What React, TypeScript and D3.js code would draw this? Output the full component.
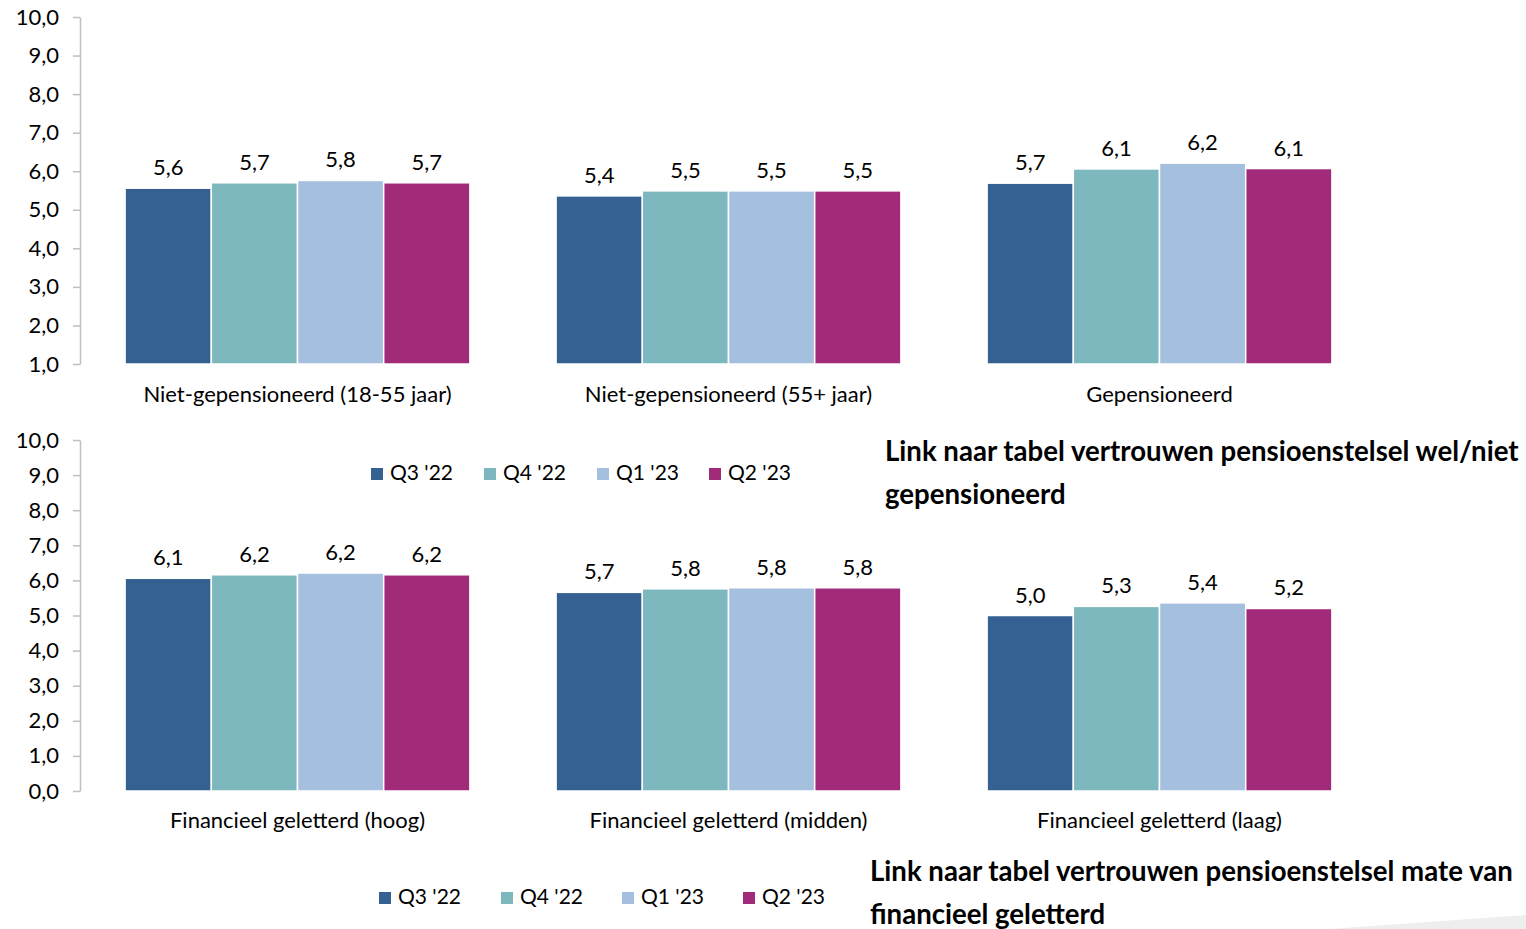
import * as d3 from "d3";
import React from "react";

const series = ["Q3 '22", "Q4 '22", "Q1 '23", "Q2 '23"];
const colors = ["#356092", "#7db8bf", "#a5bfde", "#a12b78"];

const topCategories = [
  "Niet-gepensioneerd (18-55 jaar)",
  "Niet-gepensioneerd (55+ jaar)",
  "Gepensioneerd",
];
const topValues = [
  [5.56, 5.7, 5.76, 5.7],
  [5.36, 5.49, 5.49, 5.49],
  [5.69, 6.06, 6.21, 6.07],
];
const topTicks = [1, 2, 3, 4, 5, 6, 7, 8, 9, 10];

const bottomCategories = [
  "Financieel geletterd (hoog)",
  "Financieel geletterd (midden)",
  "Financieel geletterd (laag)",
];
const bottomValues = [
  [6.06, 6.16, 6.21, 6.16],
  [5.66, 5.76, 5.79, 5.79],
  [5.0, 5.26, 5.36, 5.2],
];
const bottomTicks = [0, 1, 2, 3, 4, 5, 6, 7, 8, 9, 10];

const topLink = ["Link naar tabel vertrouwen pensioenstelsel wel/niet", "gepensioneerd"];
const bottomLink = ["Link naar tabel vertrouwen pensioenstelsel mate van", "financieel geletterd"];

const FONT = "Lato, 'Noto Sans', sans-serif";

const nl = d3.formatLocale({
  decimal: ",",
  thousands: ".",
  grouping: [3],
  currency: ["€", ""],
});
const fmt = nl.format(".1f");

const width = 1526;
const height = 929;

export default function App() {
  const ref = React.useRef<SVGSVGElement | null>(null);

  const drawPanel = (
    svg: d3.Selection<SVGSVGElement, unknown, null, undefined>,
    cats: string[],
    values: number[][],
    ticks: number[],
    yDomain: [number, number],
    yRange: [number, number],
    catLabelY: number,
    legendX: number[],
    legendY: number,
    link: string[],
    linkX: number,
    linkY: number
  ) => {
    const x = d3
      .scaleBand<string>()
      .domain(cats)
      .range([82, 1375])
      .paddingInner(0.2)
      .paddingOuter(0.1);
    const xs = d3.scaleBand<string>().domain(series).range([0, x.bandwidth()]);
    const y = d3.scaleLinear().domain(yDomain).range(yRange);

    const axis = svg
      .append("g")
      .attr("transform", "translate(80,0)")
      .call(
        d3
          .axisLeft(y)
          .tickValues(ticks)
          .tickSize(7)
          .tickSizeOuter(0)
          .tickPadding(14)
          .tickFormat((d) => fmt(d as number))
      );
    axis.select(".domain").attr("stroke", "#bfbfbf").attr("stroke-width", 1.5);
    axis.selectAll(".tick line").attr("stroke", "#bfbfbf").attr("stroke-width", 1.5);
    axis
      .selectAll(".tick text")
      .attr("font-family", FONT)
      .attr("font-size", 22)
      .attr("fill", "#000");

    const groups = svg
      .append("g")
      .selectAll("g")
      .data(cats)
      .join("g")
      .attr("transform", (d) => `translate(${x(d)},0)`);

    groups
      .selectAll("rect")
      .data((_, i) => values[i].map((v, j) => ({ v, s: series[j], c: colors[j] })))
      .join("rect")
      .attr("x", (d) => xs(d.s)!)
      .attr("y", (d) => y(d.v))
      .attr("width", xs.bandwidth())
      .attr("height", (d) => y(yDomain[0]) - y(d.v))
      .attr("fill", (d) => d.c)
      .attr("stroke", "#fff")
      .attr("stroke-width", 1.5);

    groups
      .selectAll("text.val")
      .data((_, i) => values[i].map((v, j) => ({ v, s: series[j] })))
      .join("text")
      .attr("class", "val")
      .attr("x", (d) => xs(d.s)! + xs.bandwidth() / 2)
      .attr("y", (d) => y(d.v) - 13)
      .attr("text-anchor", "middle")
      .attr("font-family", FONT)
      .attr("font-size", 22)
      .attr("fill", "#000")
      .text((d) => fmt(d.v));

    svg
      .append("g")
      .selectAll("text")
      .data(cats)
      .join("text")
      .attr("x", (d) => x(d)! + x.bandwidth() / 2)
      .attr("y", catLabelY)
      .attr("text-anchor", "middle")
      .attr("dominant-baseline", "middle")
      .attr("font-family", FONT)
      .attr("font-size", 22)
      .attr("fill", "#000")
      .text((d) => d);

    const leg = svg
      .append("g")
      .selectAll("g")
      .data(series)
      .join("g")
      .attr("transform", (_, i) => `translate(${legendX[i]},${legendY})`);
    leg
      .append("rect")
      .attr("x", 0)
      .attr("y", -6)
      .attr("width", 12)
      .attr("height", 12)
      .attr("fill", (_, i) => colors[i]);
    leg
      .append("text")
      .attr("x", 19)
      .attr("y", 1)
      .attr("dominant-baseline", "middle")
      .attr("font-family", FONT)
      .attr("font-size", 21)
      .attr("fill", "#000")
      .text((d) => d);

    svg
      .append("g")
      .selectAll("text")
      .data(link)
      .join("text")
      .attr("x", linkX)
      .attr("y", (_, i) => linkY + i * 43)
      .attr("font-family", FONT)
      .attr("font-size", 27.6)
      .attr("font-weight", 700)
      .attr("fill", "#000")
      .text((d) => d);
  };

  React.useEffect(() => {
    if (!ref.current) return;
    const svg = d3.select(ref.current);
    svg.selectAll("*").remove();

    // faint slide decoration bottom right
    svg
      .append("path")
      .attr("d", `M1330,929 L1526,915 L1526,929 Z`)
      .attr("fill", "#eeeeee");

    drawPanel(svg, topCategories, topValues, topTicks, [1, 10], [364, 17], 396,
      [371, 484, 597, 709], 474, topLink, 885, 461);
    drawPanel(svg, bottomCategories, bottomValues, bottomTicks, [0, 10], [791, 440], 822,
      [379, 501, 622, 743], 898, bottomLink, 870, 881);
  }, []);

  return (
    <div style={{ position: "absolute", left: 0, top: 0 }}>
      <svg ref={ref} width={width} height={height} style={{ display: "block", background: "#fff" }} />
    </div>
  );
}
